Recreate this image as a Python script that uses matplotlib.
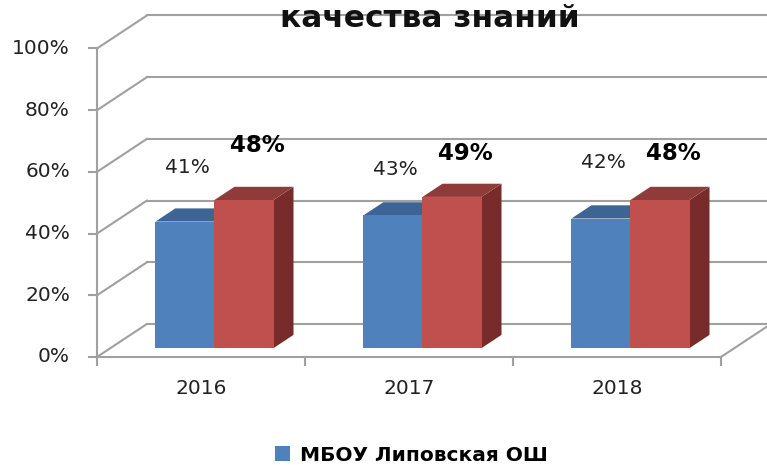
import matplotlib
matplotlib.use("Agg")
import matplotlib.pyplot as plt
from matplotlib.patches import Polygon, Patch

years = ['2016', '2017', '2018']
school = [41, 43, 42]          # МБОУ Липовская ОШ
district = [48, 49, 48]        # second series (no legend entry shown)
yticks = [0, 20, 40, 60, 80, 100]
legend_name = 'МБОУ Липовская ОШ'
title = 'качества знаний'

# label offsets above bar value (percent units)
school_lbl_dy = [20.3, 17.9, 20.9]
district_lbl_dy = [20.7, 17.1, 18.1]

# oblique "3D" geometry in data units
DX, DY = 0.24, 10.7       # full depth of the box
d0, d1 = 0.27, 0.67       # bar front / back depth fraction
w = 0.284                 # bar width
grid_c = '#a0a0a0'

blue = ('#4f81bd', '#3c6494', '#2f5078')
red = ('#c0504d', '#8f3b39', '#772c2b')

fig = plt.figure(figsize=(7.67, 4.65), dpi=100)
ax = fig.add_axes([0, 0, 1, 1])
ax.set_xlim(-0.4663, 3.2212)
ax.set_ylim(-35.01, 115.72)
ax.axis('off')

n = len(years)
# walls / gridlines
for v in yticks:
    ax.plot([0, DX], [v, v + DY], color=grid_c, lw=1.5, zorder=1)
    ax.plot([DX, n + DX + 0.3], [v + DY, v + DY], color=grid_c, lw=1.5, zorder=1)
    ax.plot([-0.04, 0], [v, v], color=grid_c, lw=1.5, zorder=1)
    ax.text(-0.13, v, f'{v}%', ha='right', va='center', fontsize=14.5, color='#222222')
ax.plot([0, 0], [0, 100], color=grid_c, lw=1.5, zorder=1)
ax.plot([0, n], [0, 0], color=grid_c, lw=1.5, zorder=1)
ax.plot([n, n + DX], [0, DY], color=grid_c, lw=1.5, zorder=1)
for i in range(n + 1):
    ax.plot([i, i], [0, -2.6], color=grid_c, lw=1.5, zorder=1)


def bar3d(x0, h, cols):
    fx = x0 + d0 * DX
    fy = d0 * DY
    ddx = (d1 - d0) * DX
    ddy = (d1 - d0) * DY
    front = [(fx, fy), (fx + w, fy), (fx + w, fy + h), (fx, fy + h)]
    top = [(fx, fy + h), (fx + w, fy + h), (fx + w + ddx, fy + h + ddy), (fx + ddx, fy + h + ddy)]
    side = [(fx + w, fy), (fx + w + ddx, fy + ddy), (fx + w + ddx, fy + h + ddy), (fx + w, fy + h)]
    ax.add_patch(Polygon(side, closed=True, fc=cols[2], ec='none', zorder=3))
    ax.add_patch(Polygon(top, closed=True, fc=cols[1], ec='none', zorder=3))
    ax.add_patch(Polygon(front, closed=True, fc=cols[0], ec='none', zorder=3))


for i in range(n):
    c = i + 0.5
    bar3d(c - w, school[i], blue)
    bar3d(c, district[i], red)
    ax.text(c - 0.065, school[i] + school_lbl_dy[i], f'{school[i]}%', ha='center', va='center',
            fontsize=14.5, color='#222222')
    ax.text(c + 0.27, district[i] + district_lbl_dy[i], f'{district[i]}%', ha='center', va='center',
            fontsize=16.5, fontweight='bold', color='black')
    ax.text(c, -10.2, years[i], ha='center', va='center', fontsize=14.5, color='#222222')

ax.text(1.601, 106.9, title, ha='center', va='baseline', fontsize=22.5, fontweight='bold',
        color='#111111', zorder=5)

ax.legend(handles=[Patch(facecolor=blue[0], label=legend_name)], loc='center',
          bbox_to_anchor=(0.536, 0.021), frameon=False, handlelength=0.75, handleheight=0.75,
          handletextpad=0.5, prop={'size': 14.5, 'weight': 'bold'})

fig.savefig('out.png', dpi=100)
